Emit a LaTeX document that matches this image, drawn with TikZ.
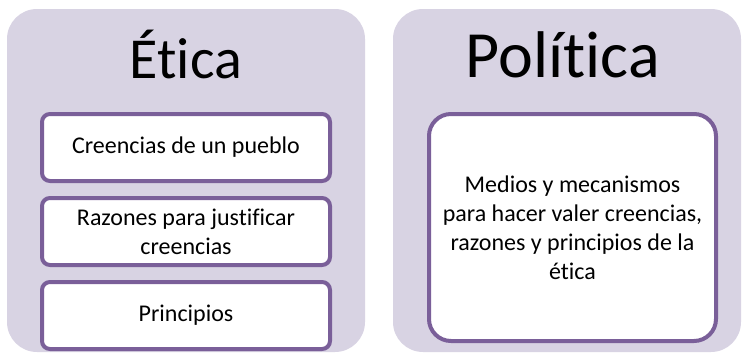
\documentclass[tikz,border=0pt]{standalone}
\usepackage{fontspec}
\setmainfont{Carlito}[Ligatures=NoCommon]
\usepackage{tikz}
\usetikzlibrary{positioning}
\definecolor{panelfill}{RGB}{216,211,227}
\definecolor{boxline}{RGB}{122,95,153}

\begin{document}
\begin{tikzpicture}[x=1pt, y=-1pt,
	panel/.style={rectangle, rounded corners=30pt, fill=panelfill, minimum height=343pt, inner sep=0pt},
	itembox/.style={rectangle, draw=boxline, line width=4pt, fill=white, inner sep=0pt, align=center, font=\fontsize{24}{29}\selectfont},
	titletext/.style={anchor=base}]
				\useasboundingbox (0,0) rectangle (742,354);
				\node [panel, minimum width=358pt] (etica) at (186, 180.5) {};
				\node [panel, minimum width=348pt] (politica) at (567, 180.5) {};
				
				\node [titletext, font=\fontsize{58}{70}\selectfont] (eticatitle) at (186, 78) {Ética};
				\node [titletext, font=\fontsize{66}{80}\selectfont] (politicatitle) at (563, 77) {Política};
				
				\node [itembox, rounded corners=8pt, minimum width=288pt, minimum height=67pt] (creencias) at (186, 147.5) {Creencias de un pueblo};
				\node [itembox, rounded corners=8pt, minimum width=288pt, minimum height=67pt, below=13pt of creencias] (razones) {Razones para justificar\\creencias};
				\node [itembox, rounded corners=8pt, minimum width=288pt, minimum height=67pt, below=13pt of razones] (principios) {Principios};
				
				\node [itembox, rounded corners=22pt, minimum width=287pt, minimum height=227pt] (medios) at (572.5, 227.5) {Medios y mecanismos\\para hacer valer creencias,\\razones y principios de la\\ética};
\end{tikzpicture}
\end{document}
